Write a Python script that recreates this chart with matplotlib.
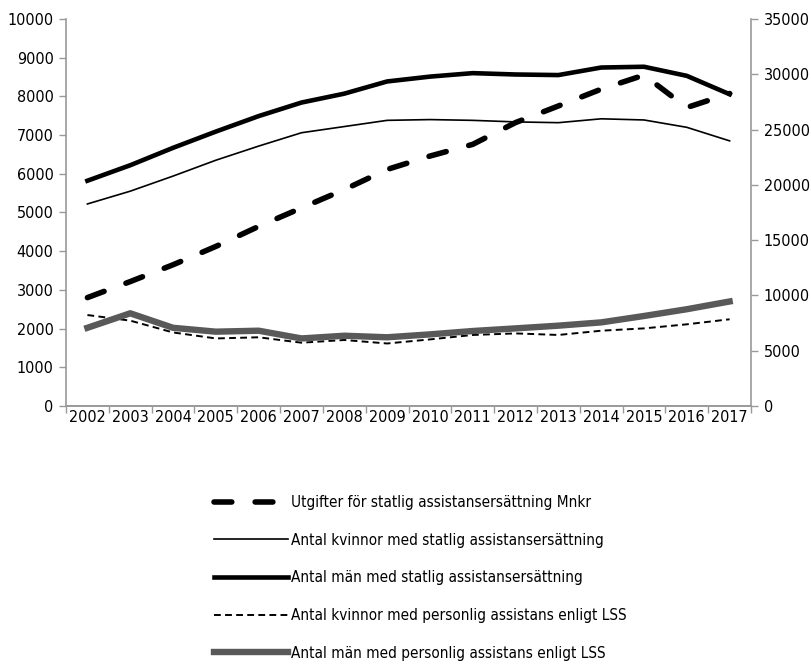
import matplotlib.pyplot as plt
import numpy as np

years = [str(y) for y in range(2002, 2018)]

utgifter_mnkr = [9800, 11250, 12770, 14430, 16240, 17910, 19570, 21390,
                 22600, 23660, 25630, 27130, 28650, 29920, 26990, 28260]
kvinnor_statlig = [5220, 5550, 5940, 6350, 6715, 7060, 7220, 7380,
                   7400, 7380, 7340, 7320, 7420, 7390, 7200, 6850]
man_statlig = [5820, 6220, 6670, 7090, 7490, 7840, 8070, 8385,
               8510, 8600, 8565, 8550, 8745, 8765, 8530, 8055]
kvinnor_lss = [2350, 2205, 1900, 1745, 1775, 1635, 1705, 1615,
               1720, 1835, 1875, 1835, 1945, 2005, 2110, 2240]
man_lss = [2020, 2395, 2020, 1920, 1945, 1745, 1815, 1775,
           1850, 1937, 2005, 2075, 2160, 2325, 2500, 2700]

labels = [
    "Utgifter för statlig assistansersättning Mnkr",
    "Antal kvinnor med statlig assistansersättning",
    "Antal män med statlig assistansersättning",
    "Antal kvinnor med personlig assistans enligt LSS",
    "Antal män med personlig assistans enligt LSS",
]

plt.rcParams["font.family"] = ["DejaVu Sans"]
plt.rcParams["font.stretch"] = "condensed"
plt.rcParams["font.size"] = 11.5

spine_col = "#999999"
x = np.arange(len(years))

fig = plt.figure(figsize=(8.12, 6.65), dpi=100)
ax = fig.add_axes([0.0813, 0.3895, 0.8436, 0.582])
ax2 = ax.twinx()

l_kv, = ax.plot(x, kvinnor_statlig, color="black", lw=1.2)
l_man, = ax.plot(x, man_statlig, color="black", lw=3.3)
l_kvl, = ax.plot(x, kvinnor_lss, color="black", lw=1.4, dashes=(3.5, 2.2))
l_manl, = ax.plot(x, man_lss, color="#595959", lw=4.6)
l_utg, = ax2.plot(x, utgifter_mnkr, color="black", lw=4.0, dashes=(3.2, 4.2),
                  dash_capstyle="round")

ax.set_xlim(-0.5, len(years) - 0.5)
ax.set_ylim(0, 10000)
ax.set_yticks(range(0, 10001, 1000))
ax2.set_ylim(0, 35000)
ax2.set_yticks(range(0, 35001, 5000))

ax.set_xticks(x)
ax.set_xticklabels(years)
ax.set_xticks(np.arange(-0.5, len(years), 1), minor=True)
ax.tick_params(axis="x", which="major", length=0, pad=3)
ax.tick_params(axis="x", which="minor", length=5, color=spine_col, width=1)
ax.tick_params(axis="y", length=5, color=spine_col, width=1, pad=4)
ax2.tick_params(axis="y", length=5, color=spine_col, width=1, pad=4)

for a in (ax, ax2):
    a.spines["top"].set_visible(False)
    for s in ("left", "right", "bottom"):
        a.spines[s].set_color(spine_col)
        a.spines[s].set_linewidth(1.2)
ax.spines["right"].set_visible(False)
ax2.spines["left"].set_visible(False)

fig.legend([l_utg, l_kv, l_man, l_kvl, l_manl], labels,
           loc="upper left", bbox_to_anchor=(0.247, 0.276),
           frameon=False, handlelength=4.85, handletextpad=0.2,
           labelspacing=1.48, fontsize=11)

fig.savefig("out.png", dpi=100)
